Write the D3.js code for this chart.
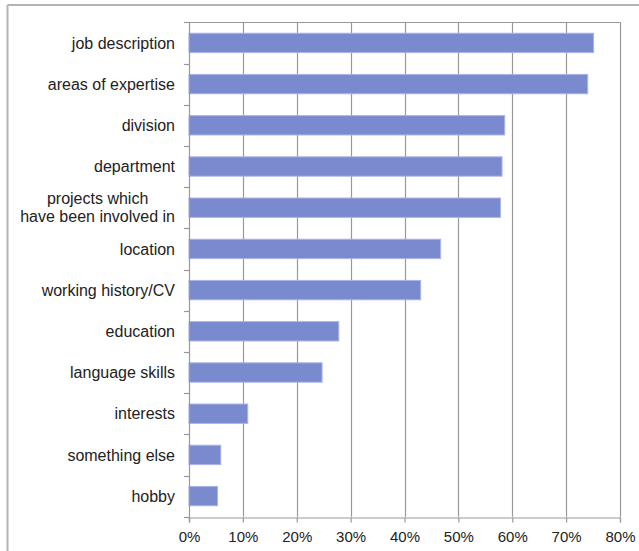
<!DOCTYPE html>
<html>
<head>
<meta charset="utf-8">
<script src="https://cdn.jsdelivr.net/npm/d3@7"></script>
<style>
  html, body { margin: 0; padding: 0; background: #fff; }
  svg { display: block; }
</style>
</head>
<body>
<svg id="chart" width="639" height="551"></svg>
<script>
const categories = [
  "job description",
  "areas of expertise",
  "division",
  "department",
  "projects which\nhave been involved in",
  "location",
  "working history/CV",
  "education",
  "language skills",
  "interests",
  "something else",
  "hobby"
];
const values = [75.1, 74.0, 58.6, 58.1, 57.8, 46.7, 43.0, 27.8, 24.7, 10.9, 5.9, 5.3];
const xTickValues = [0, 10, 20, 30, 40, 50, 60, 70, 80];

(function () {
const svg = d3.select("#chart");
const W = 639, H = 551;
const pLeft = 189, pRight = 620, pTop = 22.3, pBottom = 516.7;

// outer frame (top and left visible)
svg.append("line").attr("x1", 7.5).attr("x2", W).attr("y1", 5).attr("y2", 5)
  .attr("stroke", "#b3b3b3").attr("stroke-width", 2);
svg.append("line").attr("x1", 7.5).attr("x2", 7.5).attr("y1", 5).attr("y2", H)
  .attr("stroke", "#b3b3b3").attr("stroke-width", 2);

const x = d3.scaleLinear().domain([0, 80]).range([pLeft, pRight]);
const y = d3.scaleBand().domain(categories).range([pTop, pBottom]).paddingInner(0.53).paddingOuter(0.265);
const yOuter = d3.scaleBand().domain(categories).range([pTop, pBottom]);

const g = svg.append("g");

// gridlines
g.selectAll(".grid").data(xTickValues.slice(1)).enter().append("line")
  .attr("x1", d => Math.round(x(d)) + 0.5).attr("x2", d => Math.round(x(d)) + 0.5)
  .attr("y1", pTop).attr("y2", pBottom)
  .attr("stroke", "#999").attr("stroke-width", 1.2);

// top border of plot area
g.append("line").attr("x1", pLeft).attr("x2", Math.round(x(80)) + 0.5)
  .attr("y1", Math.round(pTop) + 0.5).attr("y2", Math.round(pTop) + 0.5)
  .attr("stroke", "#999").attr("stroke-width", 1.2);

// bars
g.selectAll(".bar").data(categories).enter().append("rect")
  .attr("x", x(0))
  .attr("y", d => y(d))
  .attr("width", (d, i) => x(values[i]) - x(0))
  .attr("height", y.bandwidth())
  .attr("fill", "#7a8acf")
  .attr("stroke", "#aab4e8").attr("stroke-width", 1);

// x axis
const xAxis = d3.axisBottom(x).tickValues(xTickValues).tickFormat(d => d + "%").tickSize(5).tickPadding(9);
const xg = svg.append("g").attr("transform", `translate(0,${Math.round(pBottom) + 0.5})`).call(xAxis);
xg.select(".domain").attr("stroke", "#999").attr("stroke-width", 1.2);
xg.selectAll(".tick line").attr("stroke", "#999").attr("stroke-width", 1.2);
xg.selectAll(".tick text").attr("font-family", "Liberation Sans, Arial, sans-serif")
  .attr("font-size", 15).attr("fill", "#222");

// y axis: line with ticks at category boundaries
const yg = svg.append("g");
yg.append("line").attr("x1", Math.round(pLeft) + 0.5).attr("x2", Math.round(pLeft) + 0.5)
  .attr("y1", pTop).attr("y2", pBottom + 5).attr("stroke", "#999").attr("stroke-width", 1.2);
const boundaries = categories.map(c => yOuter(c)).concat([pBottom]);
yg.selectAll(".ytick").data(boundaries).enter().append("line")
  .attr("x1", pLeft - 5).attr("x2", pLeft)
  .attr("y1", d => Math.round(d) + 0.5).attr("y2", d => Math.round(d) + 0.5)
  .attr("stroke", "#999").attr("stroke-width", 1.2);

// category labels
categories.forEach(c => {
  const lines = c.split("\n");
  const cy = y(c) + y.bandwidth() / 2;
  const lh = 18;
  const t = svg.append("text")
    .attr("font-family", "Liberation Sans, Arial, sans-serif")
    .attr("font-size", 16).attr("fill", "#222");
  if (lines.length === 1) {
    t.attr("text-anchor", "end").attr("x", 175).attr("y", cy).attr("dy", "0.35em").text(c);
  } else {
    t.attr("text-anchor", "middle");
    lines.forEach((ln, i) => {
      t.append("tspan").attr("x", 0).attr("y", cy + (i - (lines.length - 1) / 2) * lh)
        .attr("dy", "0.35em").text(ln);
    });
    const bb = t.node().getBBox();
    t.selectAll("tspan").attr("x", 175 - bb.width / 2);
  }
});
})();
</script>
</body>
</html>
